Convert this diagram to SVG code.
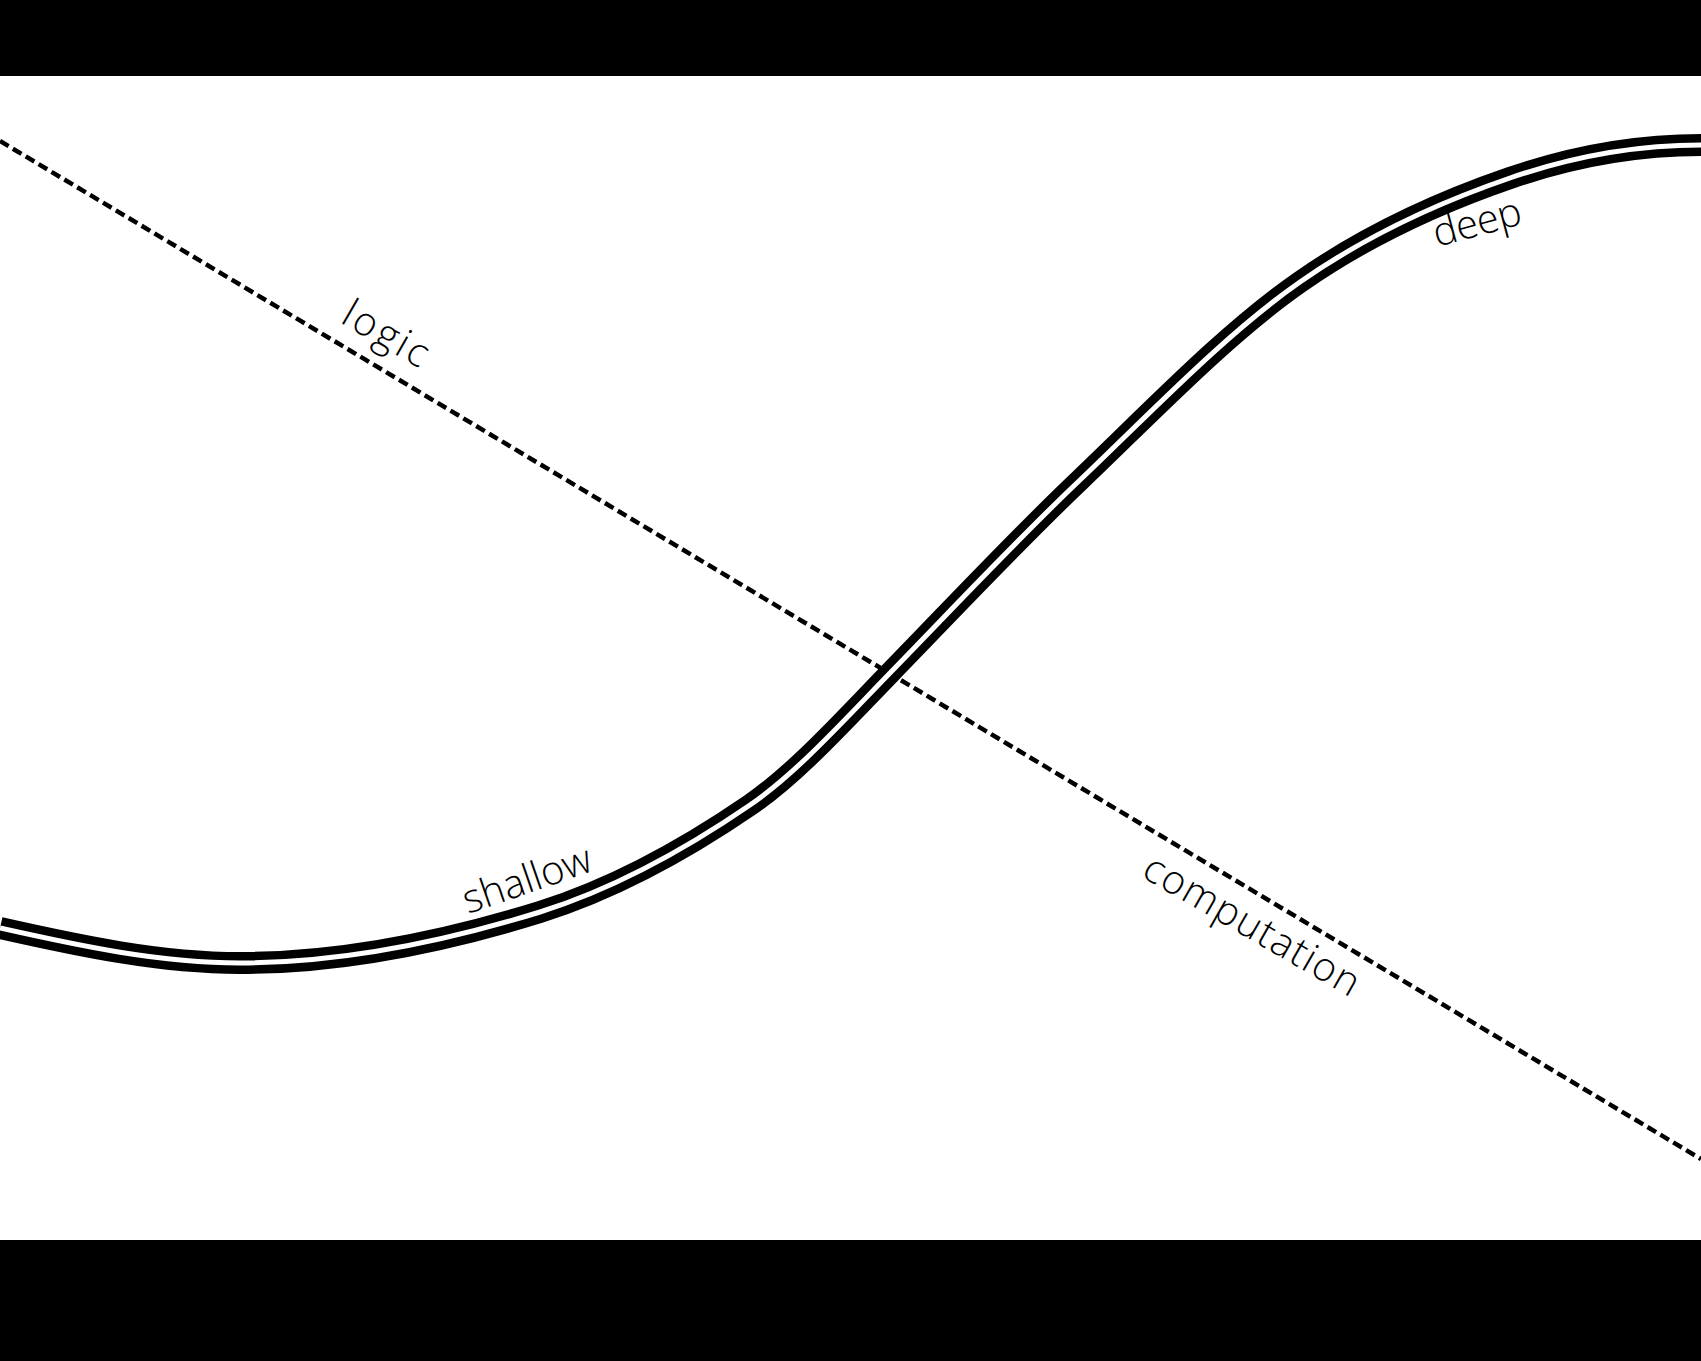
<svg xmlns="http://www.w3.org/2000/svg" width="1701" height="1361" viewBox="0 0 1701 1361">
  <style>
    .band { fill: #000; }
    .axis { fill: none; stroke: #000; stroke-width: 4.5; stroke-dasharray: 10 5; }
    .curve-outer { fill: none; stroke: #000; stroke-width: 22; stroke-linecap: butt; stroke-linejoin: round; }
    .curve-inner { fill: none; stroke: #fff; stroke-width: 5; stroke-linecap: butt; stroke-linejoin: round; }
    .label { font-family: "Open Sans", "Liberation Sans", sans-serif; font-weight: 300; font-size: 40px; fill: #000; }
  </style>
  <defs>
    <path id="scurve" d="M 0 928 C 80 946, 160 963, 240 963 C 340 963, 440 943, 540 912 C 610 890, 680 853, 750 805 C 796.7 773, 843.3 721, 890 673 C 953.3 608, 1016.7 540, 1080 480 C 1153.3 410, 1226.7 333, 1300 282 C 1370 233, 1440 202, 1510 178 C 1573.7 156, 1637.3 145, 1701 145"/>
  </defs>
  <rect x="0" y="0" width="1701" height="1361" fill="#fff"/>
  <rect class="band" x="0" y="0" width="1701" height="76"/>
  <rect class="band" x="0" y="1240" width="1701" height="121"/>
  <g id="connectors">
    <line id="axis-logic-computation" class="axis" x1="0" y1="141" x2="1701" y2="1159"/>
    <g id="curve-shallow-deep">
      <use href="#scurve" class="curve-outer"/>
      <use href="#scurve" class="curve-inner"/>
    </g>
  </g>
  <g id="label-logic">
    <text class="label" transform="translate(339,322) rotate(30)" textLength="93" lengthAdjust="spacing">logic</text>
  </g>
  <g id="label-computation">
    <text class="label" transform="translate(1140,876) rotate(30)" textLength="243" lengthAdjust="spacing">computation</text>
  </g>
  <g id="label-shallow">
    <text class="label" transform="translate(468,914) rotate(-19)" textLength="134" lengthAdjust="spacing">shallow</text>
  </g>
  <g id="label-deep">
    <text class="label" transform="translate(1437,247) rotate(-15)" textLength="90" lengthAdjust="spacing">deep</text>
  </g>
</svg>
